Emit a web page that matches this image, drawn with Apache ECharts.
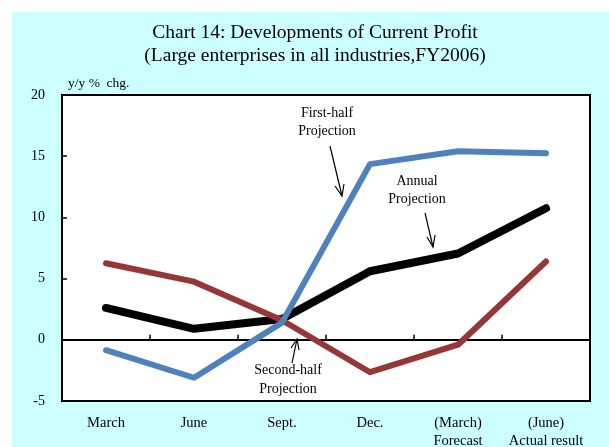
<!DOCTYPE html>
<html><head><meta charset="utf-8">
<script src="https://cdn.jsdelivr.net/npm/echarts@6/dist/echarts.min.js"></script>
<style>html,body{margin:0;padding:0;background:#fff}#c{width:609px;height:447px}</style>
</head><body><div id="c"></div>
<script>
const categories = ['March', 'June', 'Sept.', 'Dec.', '(March)\nForecast', '(June)\nActual result'];
const firstHalf = [-0.85, -3.1, 1.4, 14.35, 15.4, 15.25];
const annual = [2.6, 0.9, 1.7, 5.6, 7.05, 10.75];
const secondHalf = [6.25, 4.75, 1.6, -2.65, -0.4, 6.4];
const yTicks = [-5, 0, 5, 10, 15, 20];

const serif = '"Liberation Serif","Times New Roman",serif';
const chart = echarts.init(document.getElementById('c'));
chart.setOption({
  backgroundColor: '#ffffff',
  animation: false,
  graphic: [
    { type: 'rect', z: -10, silent: true, shape: { x: 12, y: 12, width: 597, height: 435 }, style: { fill: '#CCFFFF' } },
    { type: 'text', x: 315, y: 44, z: 10, style: { text: 'Chart 14: Developments of Current Profit\n(Large enterprises in all industries,FY2006)', font: '19.5px ' + serif, fill: '#000', align: 'center', verticalAlign: 'middle', lineHeight: 23 } },
    { type: 'text', x: 68, y: 83, z: 10, style: { text: 'y/y %  chg.', font: '13.5px ' + serif, fill: '#000', verticalAlign: 'middle' } },
    { type: 'text', x: 327, y: 122, z: 10, style: { text: 'First-half\nProjection', font: '14px ' + serif, fill: '#000', align: 'center', verticalAlign: 'middle', lineHeight: 18 } },
    { type: 'line', z: 10, shape: { x1: 330, y1: 146, x2: 342, y2: 196 }, style: { stroke: '#000', lineWidth: 1.2 } },
    { type: 'polyline', z: 10, shape: { points: [[335, 186], [342, 196], [344, 184]] }, style: { stroke: '#000', lineWidth: 1.2, fill: null } },
    { type: 'text', x: 417, y: 190, z: 10, style: { text: 'Annual\nProjection', font: '14px ' + serif, fill: '#000', align: 'center', verticalAlign: 'middle', lineHeight: 18 } },
    { type: 'line', z: 10, shape: { x1: 425, y1: 213, x2: 433, y2: 247 }, style: { stroke: '#000', lineWidth: 1.2 } },
    { type: 'polyline', z: 10, shape: { points: [[427, 237], [433, 247], [435, 235]] }, style: { stroke: '#000', lineWidth: 1.2, fill: null } },
    { type: 'text', x: 288, y: 380, z: 10, style: { text: 'Second-half\nProjection', font: '14px ' + serif, fill: '#000', align: 'center', verticalAlign: 'middle', lineHeight: 19 } },
    { type: 'line', z: 10, shape: { x1: 292, y1: 363, x2: 297, y2: 339 }, style: { stroke: '#000', lineWidth: 1.2 } },
    { type: 'polyline', z: 10, shape: { points: [[291, 348], [297, 339], [299, 350]] }, style: { stroke: '#000', lineWidth: 1.2, fill: null } }
  ],
  grid: { left: 62, top: 95, right: 19, bottom: 46, show: true, backgroundColor: '#ffffff', borderColor: '#000', borderWidth: 2, outerBoundsMode: 'none', containLabel: false },
  xAxis: [
    { type: 'category', data: categories, boundaryGap: true,
      axisLine: { onZero: true, lineStyle: { color: '#000', width: 2 } },
      axisTick: { show: true, inside: true, length: 5, lineStyle: { color: '#000', width: 1.5 } },
      axisLabel: { show: false }, splitLine: { show: false } },
    { type: 'category', data: categories, position: 'bottom', boundaryGap: true,
      axisLine: { show: false, onZero: false }, axisTick: { show: false },
      axisLabel: { show: true, color: '#000', fontFamily: serif, fontSize: 14.5, lineHeight: 18, margin: 13, interval: 0 } }
  ],
  yAxis: {
    type: 'value', min: -5, max: 20, interval: 5,
    axisLine: { show: true, onZero: false, lineStyle: { color: '#000', width: 2 } },
    axisTick: { show: true, inside: true, length: 5, lineStyle: { color: '#000', width: 1.5 } },
    axisLabel: { color: '#000', fontFamily: serif, fontSize: 14, margin: 17,
      formatter: v => yTicks.includes(v) ? String(v) : '' },
    splitLine: { show: false }
  },
  series: [
    { name: 'Second-half Projection', type: 'line', data: secondHalf, symbol: 'none', z: 3,
      lineStyle: { color: '#953735', width: 6, cap: 'round', join: 'round' } },
    { name: 'First-half Projection', type: 'line', data: firstHalf, symbol: 'none', z: 4,
      lineStyle: { color: '#4F81BD', width: 6, cap: 'round', join: 'round' } },
    { name: 'Annual Projection', type: 'line', data: annual, symbol: 'none', z: 2,
      lineStyle: { color: '#000000', width: 8, cap: 'round', join: 'round' } }
  ]
});
</script></body></html>
